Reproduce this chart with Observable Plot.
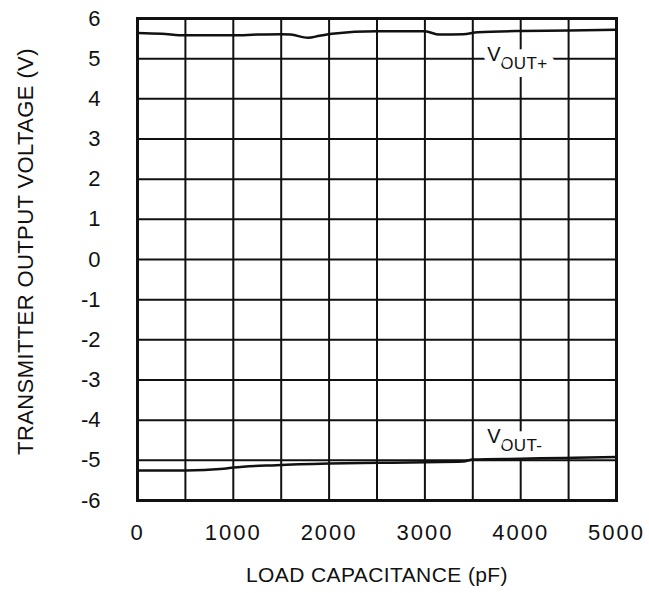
<!DOCTYPE html>
<html><head><meta charset="utf-8">
<script src="https://cdn.jsdelivr.net/npm/d3@7"></script>
<script src="https://cdn.jsdelivr.net/npm/@observablehq/plot@0.6"></script>
<style>body{margin:0;background:#fff}</style>
</head><body><div id="chart"></div>
<script>
// Data
const capPlus   = [0, 250, 500, 750, 1000, 1250, 1500, 1600, 1780, 1900, 2030, 2500, 3000, 3150, 3400, 3550, 4000, 4500, 5000];
const voutPlus  = [5.64, 5.62, 5.58, 5.58, 5.58, 5.60, 5.61, 5.60, 5.52, 5.57, 5.62, 5.68, 5.68, 5.60, 5.61, 5.66, 5.69, 5.70, 5.72];
const capMinus  = [0, 500, 900, 1000, 1450, 2000, 2530, 3400, 3500, 4000, 4450, 5000];
const voutMinus = [-5.25, -5.25, -5.21, -5.18, -5.12, -5.08, -5.06, -5.03, -4.98, -4.96, -4.94, -4.92];
const xTicks = [0, 1000, 2000, 3000, 4000, 5000];
const xGrid = [0, 500, 1000, 1500, 2000, 2500, 3000, 3500, 4000, 4500, 5000];
const yTicks = [6, 5, 4, 3, 2, 1, 0, -1, -2, -3, -4, -5, -6];
const labelX = [3650, 3650];
const labelY = [5.0, -4.5];
const labelMain = ["V", "V"];
const labelSub = ["OUT+", "OUT-"];
const xTitle = "LOAD CAPACITANCE (pF)";
const yTitle = "TRANSMITTER OUTPUT VOLTAGE (V)";

const plusData = capPlus.map((x, i) => ({x, y: voutPlus[i]}));
const minusData = capMinus.map((x, i) => ({x, y: voutMinus[i]}));
const labels = labelX.map((x, i) => ({x, y: labelY[i], main: labelMain[i], sub: labelSub[i]}));

const font = "'Liberation Sans', Arial, sans-serif";

const chart = Plot.plot({
  width: 649,
  height: 593,
  marginLeft: 137,
  marginRight: 33,
  marginTop: 18,
  marginBottom: 93,
  style: {fontFamily: font, fontSize: "22px", color: "#111", background: "white"},
  x: {domain: [0, 5000]},
  y: {domain: [-6, 6]},
  marks: [
    Plot.gridX(xGrid, {stroke: "#111", strokeOpacity: 1, strokeWidth: 2}),
    Plot.gridY(yTicks, {stroke: "#111", strokeOpacity: 1, strokeWidth: 2}),
    // label halos + text (subscript first so the main letter paints over its halo)
    Plot.text(labels, {x: "x", y: "y", text: "sub", textAnchor: "start", dx: 13, dy: 5, fontSize: 17, stroke: "white", strokeWidth: 16, fill: "#111"}),
    Plot.text(labels, {x: "x", y: "y", text: "main", textAnchor: "start", dy: -4, fontSize: 20, stroke: "white", strokeWidth: 14, fill: "#111"}),
    Plot.line(plusData, {x: "x", y: "y", stroke: "#111", strokeWidth: 2.5, curve: "monotone-x"}),
    Plot.line(minusData, {x: "x", y: "y", stroke: "#111", strokeWidth: 2.5, curve: "monotone-x"}),
    Plot.frame({stroke: "#111", strokeWidth: 3}),
    Plot.axisX(xTicks, {tickSize: 0, tickPadding: 24, tickFormat: d => String(d), label: null, fontSize: 22}),
    Plot.axisY(yTicks, {tickSize: 0, tickPadding: 37, tickFormat: d => String(d), label: null, fontSize: 22}),
    Plot.text([xTitle], {text: d => d, frameAnchor: "bottom", textAnchor: "middle", lineAnchor: "middle", dy: 75, fontSize: 21, fill: "#111"}),
    Plot.text([yTitle], {text: d => d, frameAnchor: "left", textAnchor: "middle", lineAnchor: "middle", rotate: -90, dx: -112, dy: -8, fontSize: 22, fill: "#111"})
  ]
});
document.getElementById("chart").appendChild(chart);
d3.select(chart).selectAll("[aria-label='x-axis tick label'] text").style("letter-spacing", "2px");
d3.select(chart).selectAll("g[aria-label='text'] text").style("letter-spacing", "0.4px");
</script>
</body></html>
